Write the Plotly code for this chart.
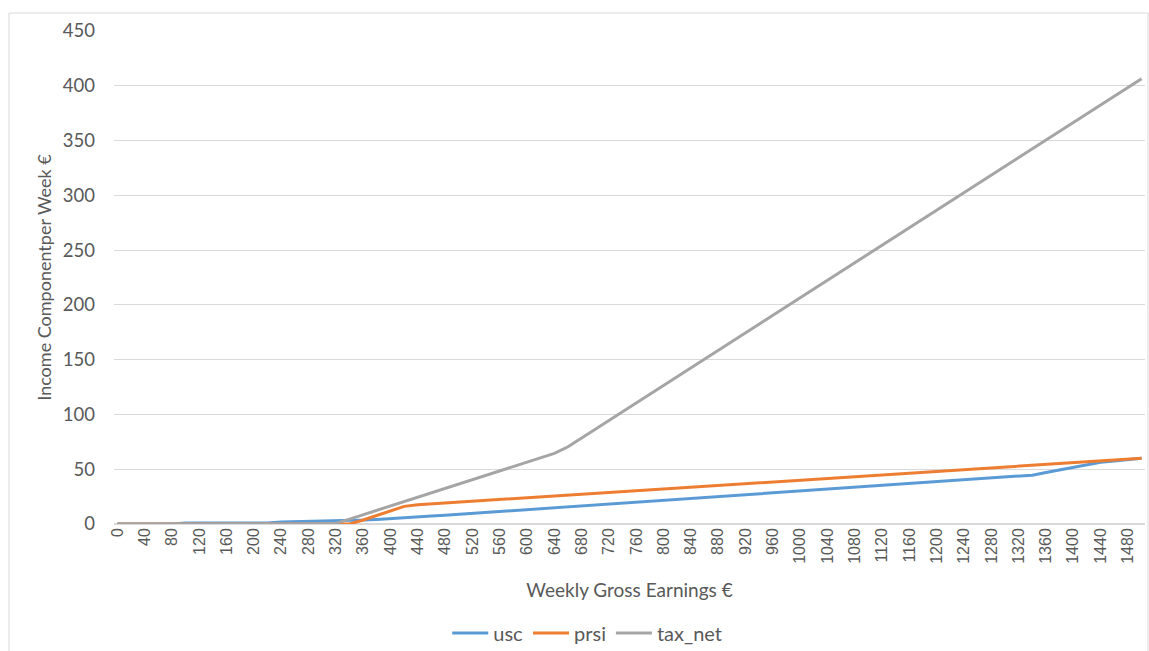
import plotly.graph_objects as go

earnings = list(range(0, 1501, 20))

usc = [0, 0, 0, 0, 0,
       0.8, 0.8, 0.8, 0.8, 0.8, 0.8, 0.8,
       1.8, 2.0, 2.2, 2.8, 3.0, 3.2, 3.6, 4.2, 4.8,
       5.5, 6.35, 7.2, 8.05, 8.9, 9.75, 10.6, 11.45, 12.3, 13.15,
       14.0, 14.85, 15.7, 16.55, 17.4, 18.25, 19.1, 19.95, 20.8, 21.65,
       22.5, 23.35, 24.2, 25.05, 25.9, 26.75, 27.6, 28.45, 29.3, 30.15,
       31.0, 31.85, 32.7, 33.55, 34.4, 35.25, 36.1, 36.95, 37.8, 38.65,
       39.5, 40.35, 41.2, 42.05, 42.9, 43.75, 44.6,
       47.0, 49.4, 51.8, 54.2, 56.4, 57.6, 58.8, 60.0]

prsi = [0] * 18 + [
    3.7, 7.9, 12.0, 16.1, 17.6, 18.4, 19.2, 20.0, 20.8, 21.6,
    22.4, 23.2, 24.0, 24.8, 25.6, 26.4, 27.2, 28.0, 28.8, 29.6,
    30.4, 31.2, 32.0, 32.8, 33.6, 34.4, 35.2, 36.0, 36.8, 37.6,
    38.4, 39.2, 40.0, 40.8, 41.6, 42.4, 43.2, 44.0, 44.8, 45.6,
    46.4, 47.2, 48.0, 48.8, 49.6, 50.4, 51.2, 52.0, 52.8, 53.6,
    54.4, 55.2, 56.0, 56.8, 57.6, 58.4, 59.2, 60.0]

tax_net = [0] * 16 + [
    0.5, 4.5, 8.5, 12.5, 16.5, 20.5, 24.5, 28.5, 32.5, 36.5,
    40.5, 44.5, 48.5, 52.5, 56.5, 60.5, 64.5, 70.5, 78.5, 86.5,
    94.5, 102.5, 110.5, 118.5, 126.5, 134.5, 142.5, 150.5, 158.5, 166.5,
    174.5, 182.5, 190.5, 198.5, 206.5, 214.5, 222.5, 230.5, 238.5, 246.5,
    254.5, 262.5, 270.5, 278.5, 286.5, 294.5, 302.5, 310.5, 318.5, 326.5,
    334.5, 342.5, 350.5, 358.5, 366.5, 374.5, 382.5, 390.5, 398.5, 406.5]

x_ticks = list(range(0, 1481, 40))
y_ticks = list(range(0, 451, 50))

series = [("usc", usc, "#5B9BD5"), ("prsi", prsi, "#ED7D31"), ("tax_net", tax_net, "#A5A5A5")]

fig = go.Figure()
for name, vals, col in series:
    fig.add_trace(go.Scatter(x=earnings, y=vals, mode="lines", name=name,
                             line=dict(color=col, width=3)))

txt = "#595959"
fig.update_layout(
    width=1149, height=651,
    margin=dict(l=114, r=4, t=31, b=127),
    plot_bgcolor="white", paper_bgcolor="white",
    font=dict(family="Lato, Noto Sans, sans-serif", color=txt),
    showlegend=True,
    legend=dict(orientation="h", x=0.459, xanchor="center",
                yref="container", y=(651 - 633) / 651, yanchor="middle",
                bgcolor="rgba(0,0,0,0)",
                font=dict(size=20, color=txt), itemwidth=36),
    xaxis=dict(range=[-5, 1505], tickmode="array", tickvals=x_ticks,
               ticktext=[str(v) for v in x_ticks], tickangle=-90, automargin=False,
               tickfont=dict(family="Liberation Sans, Arial, sans-serif", size=16, color=txt),
               showgrid=False, zeroline=False, showline=False, ticks="",
               title=dict(text="Weekly Gross Earnings €", font=dict(size=19, color=txt), standoff=20)),
    yaxis=dict(range=[0, 450], tickvals=y_ticks, showgrid=True, gridcolor="#D9D9D9", gridwidth=1,
               zeroline=True, zerolinecolor="#D9D9D9", zerolinewidth=2, automargin=False,
               tickfont=dict(size=18.5, color=txt), ticklabelstandoff=18,
               title=dict(text="Income Componentper Week €", font=dict(size=18, color=txt), standoff=6)),
    shapes=[dict(type="rect", xref="paper", yref="paper",
                 x0=(9 - 114) / 1031, x1=(1148 - 114) / 1031,
                 y0=(524 - 656) / 493, y1=(524 - 13) / 493,
                 line=dict(color="#D9D9D9", width=1), layer="below")],
)

fig.write_html("out.html", config={"displayModeBar": False},
               post_script="document.body.style.margin='0';")
